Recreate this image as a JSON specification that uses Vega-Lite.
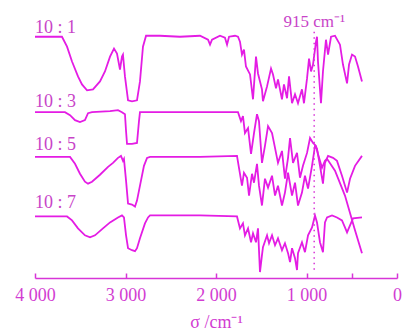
{
  "$schema": "https://vega.github.io/schema/vega-lite/v6.json",
  "width": 362,
  "height": 278,
  "autosize": {"type": "none"},
  "padding": {"left": 35, "top": 0, "right": 6, "bottom": 56},
  "background": "white",
  "config": {"view": {"stroke": null}, "font": "Liberation Serif"},
  "datasets": {
    "spectra": [
      {"r":"10:1","w":4000,"v":243},{"r":"10:1","w":3702,"v":243},{"r":"10:1","w":3646,"v":233},{"r":"10:1","w":3591,"v":218},{"r":"10:1","w":3525,"v":203},{"r":"10:1","w":3481,"v":195},{"r":"10:1","w":3425,"v":189},{"r":"10:1","w":3359,"v":190},{"r":"10:1","w":3282,"v":198},{"r":"10:1","w":3227,"v":208},{"r":"10:1","w":3171,"v":223},{"r":"10:1","w":3127,"v":231},{"r":"10:1","w":3094,"v":226},{"r":"10:1","w":3061,"v":210},{"r":"10:1","w":3039,"v":223},{"r":"10:1","w":3028,"v":225},{"r":"10:1","w":3006,"v":203},{"r":"10:1","w":2972,"v":179},{"r":"10:1","w":2928,"v":178},{"r":"10:1","w":2873,"v":179},{"r":"10:1","w":2840,"v":198},{"r":"10:1","w":2807,"v":233},{"r":"10:1","w":2773,"v":244},{"r":"10:1","w":2619,"v":244},{"r":"10:1","w":2398,"v":243},{"r":"10:1","w":2177,"v":244},{"r":"10:1","w":2088,"v":240},{"r":"10:1","w":2066,"v":235},{"r":"10:1","w":2044,"v":240},{"r":"10:1","w":1956,"v":244},{"r":"10:1","w":1901,"v":242},{"r":"10:1","w":1878,"v":235},{"r":"10:1","w":1856,"v":243},{"r":"10:1","w":1790,"v":244},{"r":"10:1","w":1757,"v":243},{"r":"10:1","w":1735,"v":238},{"r":"10:1","w":1713,"v":225},{"r":"10:1","w":1691,"v":230},{"r":"10:1","w":1669,"v":213},{"r":"10:1","w":1624,"v":205},{"r":"10:1","w":1591,"v":180},{"r":"10:1","w":1558,"v":223},{"r":"10:1","w":1536,"v":206},{"r":"10:1","w":1492,"v":190},{"r":"10:1","w":1481,"v":178},{"r":"10:1","w":1436,"v":193},{"r":"10:1","w":1392,"v":211},{"r":"10:1","w":1370,"v":205},{"r":"10:1","w":1337,"v":191},{"r":"10:1","w":1315,"v":200},{"r":"10:1","w":1271,"v":180},{"r":"10:1","w":1249,"v":195},{"r":"10:1","w":1215,"v":181},{"r":"10:1","w":1193,"v":203},{"r":"10:1","w":1160,"v":176},{"r":"10:1","w":1127,"v":185},{"r":"10:1","w":1094,"v":176},{"r":"10:1","w":1050,"v":190},{"r":"10:1","w":1028,"v":176},{"r":"10:1","w":994,"v":201},{"r":"10:1","w":972,"v":221},{"r":"10:1","w":950,"v":208},{"r":"10:1","w":928,"v":215},{"r":"10:1","w":895,"v":238},{"r":"10:1","w":884,"v":243},{"r":"10:1","w":873,"v":218},{"r":"10:1","w":840,"v":176},{"r":"10:1","w":818,"v":208},{"r":"10:1","w":785,"v":240},{"r":"10:1","w":762,"v":225},{"r":"10:1","w":729,"v":243},{"r":"10:1","w":685,"v":244},{"r":"10:1","w":630,"v":235},{"r":"10:1","w":597,"v":215},{"r":"10:1","w":552,"v":196},{"r":"10:1","w":530,"v":215},{"r":"10:1","w":497,"v":225},{"r":"10:1","w":464,"v":223},{"r":"10:1","w":431,"v":213},{"r":"10:1","w":387,"v":198},
      {"r":"10:3","w":4000,"v":167},{"r":"10:3","w":3669,"v":167},{"r":"10:3","w":3613,"v":164},{"r":"10:3","w":3558,"v":159},{"r":"10:3","w":3503,"v":157},{"r":"10:3","w":3448,"v":159},{"r":"10:3","w":3414,"v":166},{"r":"10:3","w":3370,"v":167},{"r":"10:3","w":3171,"v":168},{"r":"10:3","w":3083,"v":169},{"r":"10:3","w":3039,"v":167},{"r":"10:3","w":3006,"v":165},{"r":"10:3","w":2994,"v":148},{"r":"10:3","w":2983,"v":135},{"r":"10:3","w":2928,"v":135},{"r":"10:3","w":2873,"v":136},{"r":"10:3","w":2851,"v":158},{"r":"10:3","w":2840,"v":167},{"r":"10:3","w":2729,"v":167},{"r":"10:3","w":2177,"v":167},{"r":"10:3","w":1757,"v":167},{"r":"10:3","w":1724,"v":158},{"r":"10:3","w":1702,"v":163},{"r":"10:3","w":1680,"v":146},{"r":"10:3","w":1646,"v":151},{"r":"10:3","w":1613,"v":125},{"r":"10:3","w":1580,"v":146},{"r":"10:3","w":1547,"v":165},{"r":"10:3","w":1525,"v":158},{"r":"10:3","w":1492,"v":116},{"r":"10:3","w":1459,"v":133},{"r":"10:3","w":1425,"v":153},{"r":"10:3","w":1381,"v":146},{"r":"10:3","w":1348,"v":131},{"r":"10:3","w":1315,"v":116},{"r":"10:3","w":1271,"v":128},{"r":"10:3","w":1238,"v":100},{"r":"10:3","w":1204,"v":121},{"r":"10:3","w":1182,"v":141},{"r":"10:3","w":1149,"v":116},{"r":"10:3","w":1105,"v":126},{"r":"10:3","w":1072,"v":101},{"r":"10:3","w":1039,"v":113},{"r":"10:3","w":994,"v":126},{"r":"10:3","w":961,"v":141},{"r":"10:3","w":928,"v":136},{"r":"10:3","w":895,"v":133},{"r":"10:3","w":873,"v":125},{"r":"10:3","w":829,"v":111},{"r":"10:3","w":796,"v":118},{"r":"10:3","w":773,"v":120},{"r":"10:3","w":685,"v":108},{"r":"10:3","w":575,"v":83},{"r":"10:3","w":464,"v":48},{"r":"10:3","w":387,"v":25},
      {"r":"10:5","w":4000,"v":122},{"r":"10:5","w":3613,"v":122},{"r":"10:5","w":3558,"v":115},{"r":"10:5","w":3503,"v":105},{"r":"10:5","w":3448,"v":97},{"r":"10:5","w":3414,"v":95},{"r":"10:5","w":3370,"v":97},{"r":"10:5","w":3282,"v":104},{"r":"10:5","w":3193,"v":112},{"r":"10:5","w":3138,"v":116},{"r":"10:5","w":3083,"v":121},{"r":"10:5","w":3050,"v":123},{"r":"10:5","w":3028,"v":118},{"r":"10:5","w":3017,"v":120},{"r":"10:5","w":2994,"v":98},{"r":"10:5","w":2972,"v":75},{"r":"10:5","w":2928,"v":74},{"r":"10:5","w":2895,"v":72},{"r":"10:5","w":2873,"v":78},{"r":"10:5","w":2840,"v":93},{"r":"10:5","w":2796,"v":113},{"r":"10:5","w":2762,"v":121},{"r":"10:5","w":2729,"v":122},{"r":"10:5","w":2177,"v":122},{"r":"10:5","w":1768,"v":123},{"r":"10:5","w":1746,"v":111},{"r":"10:5","w":1713,"v":93},{"r":"10:5","w":1691,"v":106},{"r":"10:5","w":1657,"v":101},{"r":"10:5","w":1635,"v":83},{"r":"10:5","w":1602,"v":105},{"r":"10:5","w":1580,"v":96},{"r":"10:5","w":1547,"v":115},{"r":"10:5","w":1525,"v":93},{"r":"10:5","w":1492,"v":73},{"r":"10:5","w":1459,"v":100},{"r":"10:5","w":1425,"v":91},{"r":"10:5","w":1381,"v":103},{"r":"10:5","w":1348,"v":83},{"r":"10:5","w":1315,"v":93},{"r":"10:5","w":1271,"v":73},{"r":"10:5","w":1238,"v":86},{"r":"10:5","w":1204,"v":106},{"r":"10:5","w":1160,"v":83},{"r":"10:5","w":1127,"v":96},{"r":"10:5","w":1094,"v":73},{"r":"10:5","w":1050,"v":86},{"r":"10:5","w":1017,"v":103},{"r":"10:5","w":983,"v":90},{"r":"10:5","w":939,"v":113},{"r":"10:5","w":906,"v":133},{"r":"10:5","w":884,"v":130},{"r":"10:5","w":851,"v":113},{"r":"10:5","w":818,"v":95},{"r":"10:5","w":796,"v":116},{"r":"10:5","w":762,"v":123},{"r":"10:5","w":707,"v":121},{"r":"10:5","w":663,"v":118},{"r":"10:5","w":608,"v":103},{"r":"10:5","w":552,"v":86},{"r":"10:5","w":519,"v":100},{"r":"10:5","w":464,"v":113},{"r":"10:5","w":387,"v":123},
      {"r":"10:7","w":4000,"v":62},{"r":"10:7","w":3646,"v":62},{"r":"10:7","w":3591,"v":58},{"r":"10:7","w":3525,"v":50},{"r":"10:7","w":3448,"v":43},{"r":"10:7","w":3392,"v":41},{"r":"10:7","w":3337,"v":43},{"r":"10:7","w":3249,"v":50},{"r":"10:7","w":3171,"v":56},{"r":"10:7","w":3083,"v":61},{"r":"10:7","w":3039,"v":63},{"r":"10:7","w":3017,"v":61},{"r":"10:7","w":2994,"v":43},{"r":"10:7","w":2972,"v":30},{"r":"10:7","w":2928,"v":28},{"r":"10:7","w":2895,"v":27},{"r":"10:7","w":2873,"v":30},{"r":"10:7","w":2840,"v":40},{"r":"10:7","w":2785,"v":55},{"r":"10:7","w":2751,"v":61},{"r":"10:7","w":2729,"v":63},{"r":"10:7","w":2177,"v":63},{"r":"10:7","w":1768,"v":62},{"r":"10:7","w":1735,"v":50},{"r":"10:7","w":1702,"v":55},{"r":"10:7","w":1680,"v":43},{"r":"10:7","w":1646,"v":50},{"r":"10:7","w":1613,"v":36},{"r":"10:7","w":1591,"v":45},{"r":"10:7","w":1558,"v":36},{"r":"10:7","w":1536,"v":50},{"r":"10:7","w":1514,"v":6},{"r":"10:7","w":1492,"v":23},{"r":"10:7","w":1481,"v":31},{"r":"10:7","w":1436,"v":43},{"r":"10:7","w":1414,"v":35},{"r":"10:7","w":1381,"v":43},{"r":"10:7","w":1348,"v":33},{"r":"10:7","w":1315,"v":40},{"r":"10:7","w":1271,"v":28},{"r":"10:7","w":1238,"v":35},{"r":"10:7","w":1204,"v":25},{"r":"10:7","w":1182,"v":16},{"r":"10:7","w":1160,"v":30},{"r":"10:7","w":1127,"v":20},{"r":"10:7","w":1105,"v":8},{"r":"10:7","w":1094,"v":25},{"r":"10:7","w":1050,"v":36},{"r":"10:7","w":1017,"v":26},{"r":"10:7","w":983,"v":43},{"r":"10:7","w":939,"v":51},{"r":"10:7","w":906,"v":63},{"r":"10:7","w":884,"v":56},{"r":"10:7","w":851,"v":36},{"r":"10:7","w":818,"v":26},{"r":"10:7","w":796,"v":56},{"r":"10:7","w":773,"v":61},{"r":"10:7","w":718,"v":63},{"r":"10:7","w":663,"v":61},{"r":"10:7","w":608,"v":58},{"r":"10:7","w":575,"v":51},{"r":"10:7","w":552,"v":46},{"r":"10:7","w":519,"v":53},{"r":"10:7","w":486,"v":60},{"r":"10:7","w":387,"v":61}
    ],
    "labels": [
      {"label":"10 : 1","w":4000,"v":247},
      {"label":"10 : 3","w":4000,"v":172},
      {"label":"10 : 5","w":4000,"v":129},
      {"label":"10 : 7","w":4000,"v":71}
    ],
    "marker": [{"w":915,"v1":248,"v2":6,"label":"915 cm⁻¹","vt":253}]
  },
  "layer": [
    {
      "data": {"name": "spectra"},
      "mark": {"type": "line", "strokeWidth": 1.8, "color": "#e41ce4", "interpolate": "linear"},
      "encoding": {
        "x": {"field": "w", "type": "quantitative", "scale": {"domain": [0, 4000], "reverse": true},
          "axis": {"values": [4000, 3000, 2000, 1000, 500, 0],
            "labelExpr": "datum.value == 500 ? '' : datum.value == 0 ? '0' : (datum.value/1000) + ' 000'",
            "tickSize": -5, "tickWidth": 1.5, "tickColor": "#d735d7",
            "domainColor": "#d735d7", "domainWidth": 1.5,
            "labelFont": "Liberation Serif", "labelFontSize": 18, "labelColor": "#d23cd2",
            "labelPadding": 13, "labelOverlap": false, "labelBound": false, "labelFlush": false,
            "grid": false,
            "title": "σ /cm⁻¹", "titleFont": "Liberation Serif", "titleFontSize": 18,
            "titleFontWeight": "normal", "titleColor": "#d23cd2", "titlePadding": 9}},
        "y": {"field": "v", "type": "quantitative", "scale": {"domain": [0, 278]}, "axis": null},
        "detail": {"field": "r", "type": "nominal"}
      }
    },
    {
      "data": {"name": "marker"},
      "mark": {"type": "rule", "color": "#d735d7", "strokeWidth": 1.5, "strokeDash": [1.5, 4]},
      "encoding": {
        "x": {"field": "w", "type": "quantitative"},
        "y": {"field": "v1", "type": "quantitative"},
        "y2": {"field": "v2"}
      }
    },
    {
      "data": {"name": "marker"},
      "mark": {"type": "text", "align": "center", "baseline": "alphabetic", "font": "Liberation Serif", "fontSize": 17, "color": "#c844c8"},
      "encoding": {
        "x": {"field": "w", "type": "quantitative"},
        "y": {"field": "vt", "type": "quantitative"},
        "text": {"field": "label"}
      }
    },
    {
      "data": {"name": "labels"},
      "mark": {"type": "text", "align": "left", "baseline": "alphabetic", "font": "Liberation Serif", "fontSize": 18, "color": "#c844c8"},
      "encoding": {
        "x": {"field": "w", "type": "quantitative"},
        "y": {"field": "v", "type": "quantitative"},
        "text": {"field": "label"}
      }
    }
  ]
}
